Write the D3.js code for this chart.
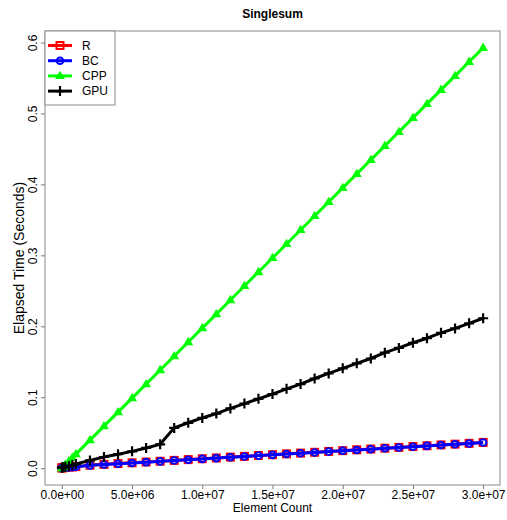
<!DOCTYPE html>
<html>
<head>
<meta charset="utf-8">
<script src="https://cdn.jsdelivr.net/npm/d3@7"></script>
<style>
  html, body { margin: 0; padding: 0; background: #fff; }
  svg { display: block; font-family: "Liberation Sans", Arial, Helvetica, sans-serif; }
</style>
</head>
<body>
<svg id="chart" width="507" height="520"></svg>
<script>
// Element counts (x axis)
const counts = [1e3, 1e4, 1e5, 2.5e5, 5e5, 7.5e5, 1e6,
  2e6, 3e6, 4e6, 5e6, 6e6, 7e6, 8e6, 9e6, 1e7,
  1.1e7, 1.2e7, 1.3e7, 1.4e7, 1.5e7, 1.6e7, 1.7e7, 1.8e7, 1.9e7, 2e7,
  2.1e7, 2.2e7, 2.3e7, 2.4e7, 2.5e7, 2.6e7, 2.7e7, 2.8e7, 2.9e7, 3e7];

// Elapsed time in seconds for each implementation
const timeR = [0.0004, 0.0005, 0.0007, 0.0010, 0.0014, 0.0018, 0.0022,
  0.0042, 0.0054, 0.0065, 0.0076, 0.0087, 0.0098, 0.0110, 0.0121, 0.0133,
  0.0144, 0.0156, 0.0167, 0.0179, 0.0190, 0.0202, 0.0213, 0.0224, 0.0236, 0.0247,
  0.0259, 0.0270, 0.0282, 0.0293, 0.0305, 0.0316, 0.0328, 0.0339, 0.0350, 0.0363];
const timeBC = [0.0002, 0.0003, 0.0005, 0.0008, 0.0012, 0.0016, 0.0020,
  0.0040, 0.0052, 0.0063, 0.0074, 0.0085, 0.0096, 0.0108, 0.0119, 0.0131,
  0.0142, 0.0154, 0.0165, 0.0177, 0.0188, 0.0200, 0.0211, 0.0222, 0.0234, 0.0245,
  0.0257, 0.0268, 0.0280, 0.0291, 0.0303, 0.0314, 0.0326, 0.0337, 0.0348, 0.0361];
const timeCPP = [0.0000, 0.0002, 0.0020, 0.0050, 0.0099, 0.0149, 0.0198,
  0.0395, 0.0592, 0.0790, 0.0988, 0.1185, 0.1383, 0.1580, 0.1778, 0.1975,
  0.2172, 0.2370, 0.2568, 0.2765, 0.2963, 0.3160, 0.3358, 0.3555, 0.3753, 0.3950,
  0.4148, 0.4345, 0.4543, 0.4740, 0.4938, 0.5135, 0.5333, 0.5530, 0.5728, 0.5925];
const timeGPU = [0.0010, 0.0010, 0.0012, 0.0020, 0.0032, 0.0045, 0.0058,
  0.0110, 0.0158, 0.0197, 0.0237, 0.0285, 0.0336, 0.0568, 0.0640, 0.0708,
  0.0770, 0.0843, 0.0910, 0.0978, 0.1045, 0.1118, 0.1185, 0.1264, 0.1336, 0.1408,
  0.1478, 0.1546, 0.1628, 0.1695, 0.1768, 0.1832, 0.1908, 0.1970, 0.2042, 0.2113];

const seriesNames = ["R", "BC", "CPP", "GPU"];
const seriesColors = ["#ff0000", "#0000ff", "#00ff00", "#000000"];
const seriesShapes = ["square", "circle", "triangle", "plus"];
const seriesValues = [timeR, timeBC, timeCPP, timeGPU];

const xTicks = [0, 5e6, 1e7, 1.5e7, 2e7, 2.5e7, 3e7];
const xTickLabels = ["0.0e+00", "5.0e+06", "1.0e+07", "1.5e+07", "2.0e+07", "2.5e+07", "3.0e+07"];
const yTicks = [0, 0.1, 0.2, 0.3, 0.4, 0.5, 0.6];
const yTickLabels = ["0.0", "0.1", "0.2", "0.3", "0.4", "0.5", "0.6"];

const svg = d3.select("#chart");
const box = { left: 45, right: 500, top: 31, bottom: 485 };

// Axis ranges padded by 4% on each side
function padded(ext) {
  const d = (ext[1] - ext[0]) * 0.04;
  return [ext[0] - d, ext[1] + d];
}
const allY = seriesValues.flat();
const x = d3.scaleLinear().domain(padded([0, d3.max(counts)])).range([box.left, box.right]);
const y = d3.scaleLinear().domain(padded([0, d3.max(allY)])).range([box.bottom, box.top]);

// Title and axis titles
svg.append("text").attr("x", (box.left + box.right) / 2).attr("y", 17.5)
  .attr("text-anchor", "middle").attr("font-size", 12).attr("font-weight", "bold")
  .text("Singlesum");
svg.append("text").attr("x", (box.left + box.right) / 2).attr("y", 512)
  .attr("text-anchor", "middle").attr("font-size", 12).text("Element Count");
svg.append("text")
  .attr("transform", `translate(23.5,${(box.top + box.bottom) / 2}) rotate(-90)`)
  .attr("text-anchor", "middle").attr("font-size", 14).text("Elapsed Time (Seconds)");

// Axes
const xAxis = d3.axisBottom(x).tickValues(xTicks)
  .tickFormat((d, i) => xTickLabels[i]).tickSize(4).tickPadding(1).tickSizeOuter(0);
const gx = svg.append("g").attr("transform", `translate(0,${box.bottom})`).call(xAxis);
gx.select(".domain").remove();
gx.selectAll("line").attr("stroke", "#777");
gx.selectAll("text").attr("font-size", 12).attr("fill", "#000")
  .attr("font-family", "Liberation Sans, Arial, sans-serif").attr("dy", "0.72em");

const yAxis = d3.axisLeft(y).tickValues(yTicks)
  .tickFormat((d, i) => yTickLabels[i]).tickSize(4).tickSizeOuter(0);
const gy = svg.append("g").attr("transform", `translate(${box.left},0)`).call(yAxis);
gy.select(".domain").remove();
gy.selectAll("line").attr("stroke", "#777");
gy.selectAll("text")
  .attr("x", null).attr("dy", null)
  .attr("text-anchor", "middle")
  .attr("transform", "translate(-8,0) rotate(-90)")
  .attr("font-size", 12).attr("fill", "#000")
  .attr("font-family", "Liberation Sans, Arial, sans-serif");

// Plot frame
svg.append("rect").attr("x", box.left).attr("y", box.top)
  .attr("width", box.right - box.left).attr("height", box.bottom - box.top)
  .attr("fill", "none").attr("stroke", "#8a8a8a").attr("stroke-width", 1);

// Marker drawing
function drawMarker(g, shape, color, cx, cy) {
  if (shape === "square") {
    g.append("rect").attr("x", cx - 3.5).attr("y", cy - 3.5).attr("width", 7).attr("height", 7)
      .attr("fill", "none").attr("stroke", color).attr("stroke-width", 2);
  } else if (shape === "circle") {
    g.append("circle").attr("cx", cx).attr("cy", cy).attr("r", 3.3)
      .attr("fill", "none").attr("stroke", color).attr("stroke-width", 2);
  } else if (shape === "triangle") {
    const s = 5.2;
    g.append("path")
      .attr("d", `M${cx},${cy - s}L${cx + s * 0.95},${cy + s * 0.6}L${cx - s * 0.95},${cy + s * 0.6}Z`)
      .attr("fill", color);
  } else if (shape === "plus") {
    const s = 5;
    g.append("path")
      .attr("d", `M${cx - s},${cy}H${cx + s}M${cx},${cy - s}V${cy + s}`)
      .attr("stroke", color).attr("stroke-width", 2.2).attr("fill", "none");
  }
}

// Series lines with markers
const line = d3.line().x(d => x(d[0])).y(d => y(d[1]));
seriesValues.forEach((vals, si) => {
  const pts = counts.map((c, i) => [c, vals[i]]);
  const g = svg.append("g");
  g.append("path").datum(pts).attr("d", line)
    .attr("fill", "none").attr("stroke", seriesColors[si]).attr("stroke-width", 3)
    .attr("stroke-linejoin", "round");
  pts.forEach(p => drawMarker(g, seriesShapes[si], seriesColors[si], x(p[0]), y(p[1])));
});

// Legend
const lg = svg.append("g");
lg.append("rect").attr("x", box.left).attr("y", box.top).attr("width", 70).attr("height", 74)
  .attr("fill", "#fff").attr("stroke", "#8a8a8a").attr("stroke-width", 1);
seriesNames.forEach((name, i) => {
  const cy = 45.5 + i * 15.2;
  lg.append("line").attr("x1", 48).attr("x2", 72).attr("y1", cy).attr("y2", cy)
    .attr("stroke", seriesColors[i]).attr("stroke-width", 3);
  drawMarker(lg, seriesShapes[i], seriesColors[i], 60, cy);
  lg.append("text").attr("x", 82).attr("y", cy + 4.3).attr("font-size", 12).text(name);
});
</script>
</body>
</html>
